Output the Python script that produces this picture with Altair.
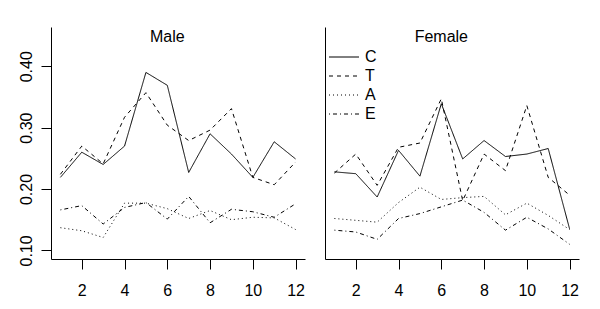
import altair as alt
import pandas as pd

months = list(range(1, 13))
series_names = ["C", "T", "A", "E"]

male_C = [0.219, 0.260, 0.240, 0.270, 0.390, 0.369, 0.227, 0.290, 0.257, 0.219, 0.277, 0.249]
male_T = [0.224, 0.270, 0.241, 0.317, 0.357, 0.304, 0.279, 0.296, 0.331, 0.219, 0.207, 0.244]
male_A = [0.137, 0.132, 0.121, 0.177, 0.177, 0.168, 0.152, 0.165, 0.150, 0.154, 0.153, 0.134]
male_E = [0.166, 0.173, 0.143, 0.170, 0.178, 0.151, 0.188, 0.145, 0.167, 0.163, 0.154, 0.176]

female_C = [0.228, 0.225, 0.187, 0.263, 0.221, 0.339, 0.249, 0.279, 0.253, 0.257, 0.266, 0.135]
female_T = [0.226, 0.257, 0.206, 0.268, 0.275, 0.347, 0.181, 0.257, 0.230, 0.336, 0.219, 0.190]
female_A = [0.152, 0.149, 0.146, 0.178, 0.203, 0.183, 0.186, 0.188, 0.158, 0.177, 0.157, 0.134]
female_E = [0.133, 0.130, 0.118, 0.152, 0.160, 0.171, 0.182, 0.162, 0.133, 0.154, 0.135, 0.110]

y_ticks = [0.10, 0.15, 0.20, 0.25, 0.30, 0.35, 0.40, 0.45]
x_ticks = [2, 4, 6, 8, 10, 12]
dash_range = [[1, 0], [4, 4], [1, 3], [1, 3, 4, 3]]
panel_titles = ["Male", "Female"]


def long_df(series):
    rows = []
    for name, vals in zip(series_names, series):
        for m, v in zip(months, vals):
            rows.append({"month": m, "value": v, "series": name})
    return pd.DataFrame(rows)


male_df = long_df([male_C, male_T, male_A, male_E])
female_df = long_df([female_C, female_T, female_A, female_E])

FONT = "Liberation Sans"
W, H = 254, 232

x_scale = alt.Scale(domain=[0.56, 12.44], nice=False, zero=False)
y_scale = alt.Scale(domain=[0.086, 0.464], nice=False, zero=False)


def panel(df, title, left):
    if left:
        y_axis = alt.Axis(
            values=y_ticks,
            labelExpr="(round(datum.value*100) % 10 == 0) ? format(datum.value, '.2f') : ''",
            labelAngle=270,
            labelAlign="center",
            labelBaseline="bottom",
            labelPadding=7,
            labelOverlap=False,
            title=None,
        )
        legend = None
    else:
        y_axis = alt.Axis(values=y_ticks, labels=False, ticks=False, title=None)
        legend = alt.Legend(
            title=None,
            orient="none",
            legendX=11,
            legendY=22,
            symbolType="M-3,0L3,0",
            symbolSize=100,
            symbolStrokeWidth=1,
            symbolStrokeColor="black",
            symbolFillColor="transparent",
            rowPadding=3,
            labelFontSize=16,
            labelFont=FONT,
            labelColor="black",
            labelOffset=13,
        )
    x_axis = alt.Axis(values=x_ticks, format="d", labelAngle=0, labelPadding=13, title=None)

    lines = alt.Chart(df).mark_line(color="black", strokeWidth=1).encode(
        x=alt.X("month:Q", scale=x_scale, axis=x_axis),
        y=alt.Y("value:Q", scale=y_scale, axis=y_axis),
        strokeDash=alt.StrokeDash(
            "series:N",
            scale=alt.Scale(domain=series_names, range=dash_range),
            legend=legend,
        ),
        detail="series:N",
    )
    tdf = pd.DataFrame({"month": [6], "value": [0.45], "label": [title]})
    text = alt.Chart(tdf).mark_text(
        font=FONT, fontSize=16, color="black", align="center", baseline="middle", dy=1
    ).encode(
        x=alt.X("month:Q", scale=x_scale),
        y=alt.Y("value:Q", scale=y_scale),
        text="label:N",
    )
    return alt.layer(lines, text).properties(width=W, height=H)


left = panel(male_df, panel_titles[0], True)
right = panel(female_df, panel_titles[1], False)

chart = (
    alt.hconcat(left, right, spacing=20)
    .resolve_scale(strokeDash="independent")
    .resolve_legend(strokeDash="independent")
    .properties(
        padding={"left": 18, "top": 27, "right": 5, "bottom": 5},
        background="white",
    )
    .configure_view(stroke=None)
    .configure_axis(
        labelFont=FONT,
        labelFontSize=16,
        labelColor="black",
        tickColor="black",
        domainColor="black",
        tickSize=10,
        tickWidth=1,
        domainWidth=1,
        grid=False,
    )
)

chart.save("out.html", embed_options={"renderer": "svg", "actions": False})
